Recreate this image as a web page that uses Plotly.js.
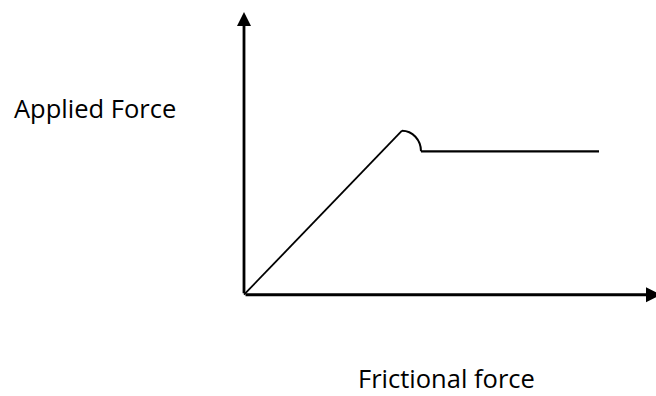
<!DOCTYPE html>
<html>
<head>
<meta charset="utf-8">
<script src="https://cdn.plot.ly/plotly-3.0.1.min.js"></script>
<style>html,body{margin:0;padding:0;background:#fff;}#chart{width:656px;height:396px;}</style>
</head>
<body>
<div id="chart"></div>
<script>
// Data (arbitrary units; origin at the meeting point of the axes)
const rampX = [0, 7.9];          // applied force rising with frictional force
const rampY = [0, 8.2];
const plateauX = [8.85, 17.75];  // kinetic friction plateau
const plateauY = [7.17, 7.17];
const xAxisEnd = 20.85;          // arrow tip of horizontal axis
const yAxisEnd = 14.13;          // arrow tip of vertical axis
const xLabel = "Frictional force";
const yLabel = "Applied Force";

// quarter-ellipse arc from the end of the ramp to the start of the plateau
const sx = rampX[rampX.length - 1], sy = rampY[rampY.length - 1];
const ex = plateauX[0], ey = plateauY[0];
const k = 0.5523;
const cx = sx, cy = ey, rx = ex - sx, ry = sy - ey;
const arcPath = `M${sx},${sy} C${cx + k * rx},${sy} ${ex},${cy + k * ry} ${ex},${ey}`;

const traces = [
  {x: rampX, y: rampY, mode: 'lines', line: {color: '#000', width: 1.8}, hoverinfo: 'skip'},
  {x: plateauX, y: plateauY, mode: 'lines', line: {color: '#000', width: 2.2}, hoverinfo: 'skip'}
];

const font = {family: '"Open Sans", "Noto Sans", sans-serif', size: 25.5, color: '#000'};

const layout = {
  width: 656, height: 396,
  margin: {l: 0, r: 0, t: 0, b: 0},
  paper_bgcolor: '#fff', plot_bgcolor: '#fff',
  showlegend: false,
  xaxis: {range: [-12.2, 20.6], visible: false, fixedrange: true},
  yaxis: {range: [-5.065, 14.735], visible: false, fixedrange: true},
  shapes: [
    {type: 'path', xref: 'x', yref: 'y', path: arcPath, line: {color: '#000', width: 2}}
  ],
  annotations: [
    {xref: 'x', yref: 'y', axref: 'x', ayref: 'y', x: 0, y: yAxisEnd, ax: 0, ay: 0,
     text: '', showarrow: true, arrowhead: 2, arrowsize: 1, arrowwidth: 2.8, arrowcolor: '#000', standoff: 0},
    {xref: 'x', yref: 'y', axref: 'x', ayref: 'y', x: xAxisEnd, y: 0, ax: 0, ay: 0,
     text: '', showarrow: true, arrowhead: 2, arrowsize: 1, arrowwidth: 3, arrowcolor: '#000', standoff: 0},
    {xref: 'paper', yref: 'paper', x: 12 / 656, y: 1 - 108 / 396, xanchor: 'left', yanchor: 'middle',
     text: yLabel, showarrow: false, font: font},
    {xref: 'paper', yref: 'paper', x: 356 / 656, y: 1 - 378 / 396, xanchor: 'left', yanchor: 'middle',
     text: xLabel, showarrow: false, font: font}
  ]
};

Plotly.newPlot('chart', traces, layout, {staticPlot: true, displayModeBar: false});
</script>
</body>
</html>
